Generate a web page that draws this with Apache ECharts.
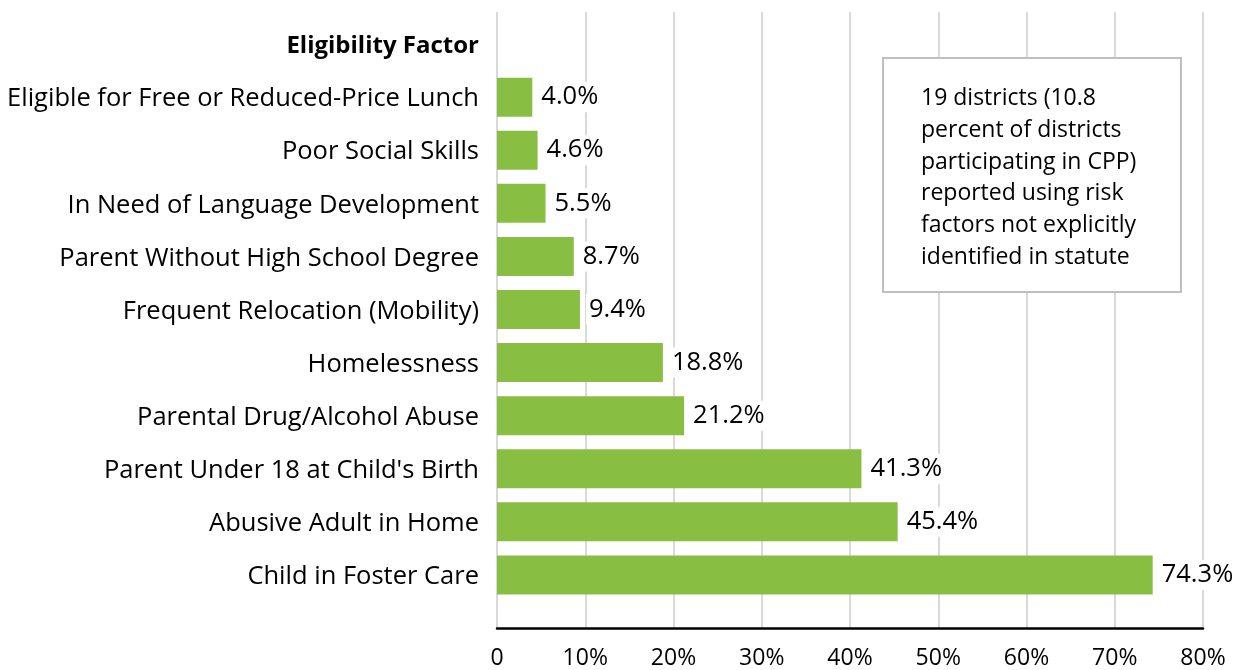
<!DOCTYPE html>
<html><head><meta charset="utf-8">
<script src="https://cdn.jsdelivr.net/npm/echarts@6/dist/echarts.min.js"></script>
<style>html,body{margin:0;padding:0;background:#fff}#c{width:1242px;height:670px}</style>
</head><body><div id="c"></div>
<script>
const header = 'Eligibility Factor';
const categories = [
  'Eligible for Free or Reduced-Price Lunch',
  'Poor Social Skills',
  'In Need of Language Development',
  'Parent Without High School Degree',
  'Frequent Relocation (Mobility)',
  'Homelessness',
  'Parental Drug/Alcohol Abuse',
  "Parent Under 18 at Child's Birth",
  'Abusive Adult in Home',
  'Child in Foster Care'
];
const values = [4.0, 4.6, 5.5, 8.7, 9.4, 18.8, 21.2, 41.3, 45.4, 74.3];
const xTicks = [0, 10, 20, 30, 40, 50, 60, 70, 80];
const note = '19 districts (10.8\npercent of districts\nparticipating in CPP)\nreported using risk\nfactors not explicitly\nidentified in statute';

const FONT = 'Open Sans';
const chart = echarts.init(document.getElementById('c'), null, {renderer: 'canvas'});
chart.setOption({
  animation: false,
  textStyle: {fontFamily: FONT},
  grid: [
    {left: 497, right: 39, top: 17.5, height: 584},
    {left: 497, right: 39, top: 12, bottom: 40}
  ],
  xAxis: [
    {gridIndex: 0, type: 'value', min: 0, max: 80, show: false},
    {gridIndex: 1, type: 'value', min: xTicks[0], max: xTicks[xTicks.length - 1], interval: 10,
     axisLine: {show: true, lineStyle: {color: '#000', width: 2.5}},
     axisTick: {show: false},
     splitLine: {show: true, lineStyle: {color: '#d9d9d9', width: 2}},
     axisLabel: {fontFamily: FONT, fontSize: 23, color: '#000', margin: 19,
       formatter: v => v === 0 ? '0' : v + '%'}}
  ],
  yAxis: [
    {gridIndex: 0, type: 'category', inverse: true, data: [header].concat(categories),
     axisLine: {show: false}, axisTick: {show: false}, splitLine: {show: false},
     axisLabel: {fontFamily: FONT, fontSize: 25.5, color: '#000', margin: 18,
       formatter: (v, i) => i === 0 ? '{h|' + v + '}' : '{n|' + v + '}',
       rich: {
         h: {fontFamily: FONT, fontSize: 24, fontWeight: 'bold', color: '#000', padding: [4, 0, 0, 0]},
         n: {fontFamily: FONT, fontSize: 25.5, color: '#000', padding: [4, 0, 0, 0]}
       }}},
    {gridIndex: 1, type: 'value', show: false}
  ],
  series: [{
    type: 'bar', xAxisIndex: 0, yAxisIndex: 0,
    data: [null].concat(values),
    barWidth: 39,
    itemStyle: {color: '#88BF42'},
    label: {show: true, position: 'right', distance: 6, color: '#000',
      fontFamily: FONT, fontSize: 25.5, backgroundColor: '#fff', padding: [4, 3, 0, 3],
      formatter: p => p.value == null ? '' : p.value.toFixed(1) + '%'}
  }],
  graphic: [{
    type: 'group', left: 882, top: 57, z: 100,
    children: [
      {type: 'rect', z: 100, shape: {x: 0, y: 0, width: 298, height: 234},
       style: {fill: '#fff', stroke: '#bfbfbf', lineWidth: 2}},
      {type: 'text', z: 101, x: 38, y: 25,
       style: {text: note, fontFamily: FONT, fontSize: 23, lineHeight: 31.7, fill: '#000'}}
    ]
  }]
});
</script></body></html>
